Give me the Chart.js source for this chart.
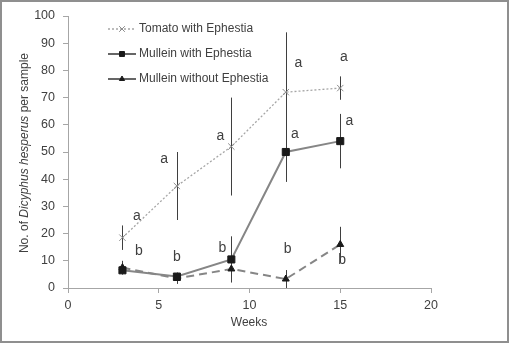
<!DOCTYPE html>
<html>
<head>
<meta charset="utf-8">
<script src="https://cdn.jsdelivr.net/npm/chart.js@4/dist/chart.umd.min.js"></script>
<style>
  html, body { margin: 0; padding: 0; background: #fff; }
  #wrap { width: 509px; height: 343px; }
</style>
</head>
<body>
<div id="wrap"><canvas id="c" width="509" height="343"></canvas></div>
<script>
const weeks = [3, 6, 9, 12, 15];
const tomato = [18.5, 37.5, 52, 72, 73.5];
const tomatoErr = [4.5, 12.5, 18, 22, 4.3];
const mulleinWith = [6.5, 4.2, 10.5, 50, 54];
const mulleinWithErr = [1.5, 1.5, 8.5, 11, 10];
const mulleinWithout = [7.5, 3.5, 7, 3.3, 16];
const mulleinWithoutErr = [2.5, 2, 4.5, 3.3, 6.5];
const xTicks = [0, 5, 10, 15, 20];
const yTicks = [0, 10, 20, 30, 40, 50, 60, 70, 80, 90, 100];

// significance letters: [week, value, letter]
const letters = [
    [3.8, 26.5, 'a'], [3.9, 13.5, 'b'],
    [5.3, 47.3, 'a'], [6.0, 11.3, 'b'],
    [8.4, 56, 'a'], [8.5, 14.6, 'b'],
    [12.7, 82.5, 'a'], [12.5, 56.4, 'a'], [12.1, 14.2, 'b'],
    [15.2, 84.7, 'a'], [15.5, 61.4, 'a'], [15.1, 10.2, 'b']
];

const FONT = '"Liberation Sans", Arial, sans-serif';
const TXT = '#404040';

const series = [
    { label: 'Tomato with Ephestia', data: tomato, err: tomatoErr, color: '#a6a6a6', width: 1.3, dash: [2, 2],
      point: 'crossRot', radius: 4.5, pColor: '#8c8c8c', legColor: '#a6a6a6', legDash: [2, 2], legRadius: 4 },
    { label: 'Mullein with Ephestia', data: mulleinWith, err: mulleinWithErr, color: '#868686', width: 2, dash: [],
      point: 'rect', radius: 5, pColor: '#1a1a1a', legColor: '#333333', legDash: [], legRadius: 3.5 },
    { label: 'Mullein without Ephestia', data: mulleinWithout, err: mulleinWithoutErr, color: '#868686', width: 2, dash: [8, 5],
      point: 'triangle', radius: 4, pColor: '#1a1a1a', legColor: '#333333', legDash: [], legRadius: 3 }
];

const extras = {
    id: 'extras',
    beforeDatasetsDraw(chart) {
        const ctx = chart.ctx, xs = chart.scales.x, ys = chart.scales.y;
        ctx.save();
        ctx.strokeStyle = '#3f3f3f';
        ctx.lineWidth = 1;
        series.forEach(s => {
            s.data.forEach((v, i) => {
                const px = Math.round(xs.getPixelForValue(weeks[i])) + 0.5;
                ctx.beginPath();
                ctx.moveTo(px, ys.getPixelForValue(v + s.err[i]));
                ctx.lineTo(px, ys.getPixelForValue(v - s.err[i]));
                ctx.stroke();
            });
        });
        ctx.restore();
    },
    afterDraw(chart) {
        const ctx = chart.ctx, xs = chart.scales.x, ys = chart.scales.y;
        ctx.save();
        // letters
        ctx.fillStyle = TXT;
        ctx.font = '14px ' + FONT;
        ctx.textAlign = 'center';
        ctx.textBaseline = 'middle';
        letters.forEach(l => ctx.fillText(l[2], xs.getPixelForValue(l[0]), ys.getPixelForValue(l[1])));

        // legend
        ctx.font = '12px ' + FONT;
        ctx.textAlign = 'left';
        series.forEach((s, i) => {
            const y = 29 + i * 25;
            ctx.strokeStyle = s.legColor;
            ctx.lineWidth = i === 0 ? 1.3 : 1.5;
            ctx.setLineDash(s.legDash);
            ctx.beginPath();
            ctx.moveTo(108, y);
            ctx.lineTo(136, y);
            ctx.stroke();
            ctx.setLineDash([]);
            ctx.fillStyle = s.pColor;
            ctx.strokeStyle = s.pColor;
            ctx.lineWidth = 1;
            Chart.helpers.drawPoint(ctx, { pointStyle: s.point, radius: s.legRadius, borderWidth: 1 }, 122, y);
            ctx.fillStyle = TXT;
            ctx.fillText(s.label, 139, y);
        });

        // axis titles
        ctx.textAlign = 'center';
        ctx.fillText('Weeks', 249, 323);
        ctx.translate(25, 153);
        ctx.rotate(-Math.PI / 2);
        const parts = [['No. of ', ''], ['Dicyphus hesperus', 'italic '], [' per sample', '']];
        let total = 0;
        parts.forEach(p => { ctx.font = p[1] + '12px ' + FONT; total += ctx.measureText(p[0]).width; });
        let x = -total / 2;
        ctx.textAlign = 'left';
        parts.forEach(p => {
            ctx.font = p[1] + '12px ' + FONT;
            ctx.fillText(p[0], x, 0);
            x += ctx.measureText(p[0]).width;
        });
        ctx.restore();

        // outer frame
        ctx.save();
        ctx.strokeStyle = '#8f8f8f';
        ctx.lineWidth = 2;
        ctx.strokeRect(1, 1, 507, 341);
        ctx.restore();
    }
};

new Chart(document.getElementById('c').getContext('2d'), {
    type: 'line',
    data: {
        datasets: series.map(s => ({
            label: s.label,
            data: s.data.map((v, i) => ({ x: weeks[i], y: v })),
            borderColor: s.color,
            borderWidth: s.width,
            borderDash: s.dash,
            pointStyle: s.point,
            pointRadius: s.radius,
            pointBackgroundColor: s.pColor,
            pointBorderColor: s.pColor,
            pointBorderWidth: 1,
            tension: 0,
            fill: false
        }))
    },
    options: {
        responsive: false,
        animation: false,
        layout: { padding: { left: 0, top: 16, right: 78, bottom: 0 } },
        plugins: { legend: { display: false }, tooltip: { enabled: false } },
        scales: {
            x: {
                type: 'linear',
                min: 0, max: 20,
                afterBuildTicks: s => { s.ticks = xTicks.map(v => ({ value: v })); },
                afterFit: s => { s.height = 55; },
                border: { color: '#a6a6a6', width: 1 },
                grid: { drawOnChartArea: false, drawTicks: true, tickLength: 5, color: '#a6a6a6' },
                ticks: { color: TXT, font: { family: FONT, size: 12.5 }, padding: 5, maxRotation: 0 }
            },
            y: {
                type: 'linear',
                min: 0, max: 100,
                afterBuildTicks: s => { s.ticks = yTicks.map(v => ({ value: v })); },
                afterFit: s => { s.width = 68; },
                border: { color: '#a6a6a6', width: 1 },
                grid: { drawOnChartArea: false, drawTicks: true, tickLength: 5, color: '#a6a6a6' },
                ticks: { color: TXT, font: { family: FONT, size: 12.5 }, padding: 8 }
            }
        }
    },
    plugins: [extras]
});
</script>
</body>
</html>
